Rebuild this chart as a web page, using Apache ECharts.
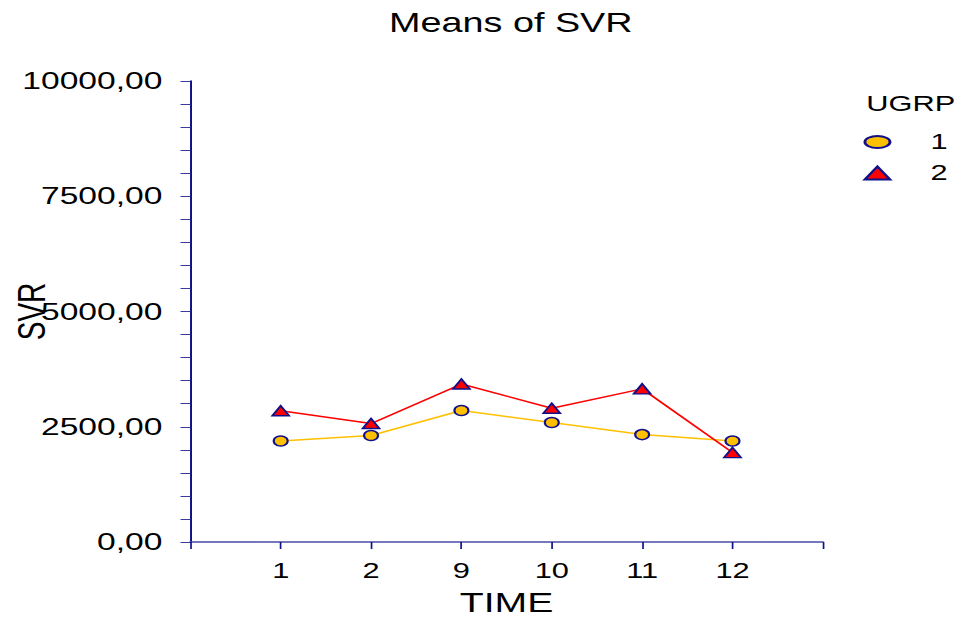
<!DOCTYPE html>
<html>
<head>
<meta charset="utf-8">
<script src="https://cdn.jsdelivr.net/npm/echarts@6/dist/echarts.min.js"></script>
<style>
  html, body { margin: 0; padding: 0; background: #ffffff; overflow: hidden; }
  #wrap { width: 967px; height: 619px; overflow: hidden; }
  #chart { width: 691px; height: 619px; transform: scaleX(1.39942); transform-origin: 0 0; }
</style>
</head>
<body>
<div id="wrap"><div id="chart"></div></div>
<script>
// ---- data ----
const timeCategories = ['1', '2', '9', '10', '11', '12'];
const group1Means = [2191, 2309, 2852, 2591, 2330, 2191];
const group2Means = [2848, 2570, 3427, 2902, 3321, 1940];
const seriesNames = ['1', '2'];
const yTickLabels = [0, 2500, 5000, 7500, 10000];

const FONT = '"Liberation Sans", Arial, sans-serif';
const NAVY = '#10108a';
const ellipseIcon = 'path://M0,6A9,6 0 1,1 18,6A9,6 0 1,1 0,6Z';

const axisData = [''].concat(timeCategories, ['']);
const pad = arr => ['-'].concat(arr, ['-']);

const chart = echarts.init(document.getElementById('chart'), null, { renderer: 'svg' });
chart.setOption({
  animation: false,
  backgroundColor: '#ffffff',
  title: [
    { text: 'Means of SVR', left: 273, top: 4,
      textStyle: { fontFamily: FONT, fontSize: 27, fontWeight: 'normal', color: '#000' } },
    { text: 'UGRP', left: 614, top: 88,
      textStyle: { fontFamily: FONT, fontSize: 22, fontWeight: 'normal', color: '#000' } }
  ],
  legend: {
    orient: 'vertical', left: 612, top: 126,
    itemWidth: 18, itemHeight: 13, itemGap: 9,
    textStyle: { fontFamily: FONT, fontSize: 22, color: '#000', lineHeight: 22, padding: [0, 0, 0, 24] },
    data: [ { name: seriesNames[0], icon: ellipseIcon }, { name: seriesNames[1], icon: 'triangle' } ]
  },
  grid: { left: 136, right: 103, top: 81, bottom: 77, containLabel: false, outerBoundsMode: 'none' },
  xAxis: {
    type: 'category', data: axisData, boundaryGap: false,
    name: 'TIME', nameLocation: 'middle', nameGap: 46, nameMoveOverlap: false,
    nameTextStyle: { fontFamily: FONT, fontSize: 28, color: '#000' },
    axisLine: { lineStyle: { color: '#4a4aa6', width: 1.5 } },
    axisTick: { show: true, interval: 0, length: 7, lineStyle: { color: NAVY, width: 1.2 } },
    axisLabel: { interval: 0, margin: 18, fontFamily: FONT, fontSize: 22, color: '#000' },
    splitLine: { show: false }
  },
  yAxis: {
    type: 'value', min: 0, max: 10000, interval: 500,
    name: 'SVR', nameLocation: 'middle', nameGap: 100, nameRotate: 90, nameMoveOverlap: false,
    nameTextStyle: { fontFamily: FONT, fontSize: 28, color: '#000' },
    axisLine: { show: true, lineStyle: { color: NAVY, width: 1.4 } },
    axisTick: { show: true, length: 7, lineStyle: { color: '#3a3a9e', width: 1 } },
    axisLabel: {
      margin: 20, fontFamily: FONT, fontSize: 24, color: '#000',
      formatter: v => yTickLabels.indexOf(v) >= 0 ? v.toFixed(2).replace('.', ',') : ''
    },
    splitLine: { show: false }
  },
  series: [
    { name: seriesNames[0], type: 'line', data: pad(group1Means),
      symbol: 'circle', symbolSize: 10,
      lineStyle: { color: '#FFC000', width: 1.5 },
      itemStyle: { color: '#FFC000', borderColor: NAVY, borderWidth: 1.5 } },
    { name: seriesNames[1], type: 'line', data: pad(group2Means),
      symbol: 'triangle', symbolSize: [12, 10],
      lineStyle: { color: '#FF0000', width: 1.5 },
      itemStyle: { color: '#FF0000', borderColor: NAVY, borderWidth: 1.5 } }
  ]
});
</script>
</body>
</html>
